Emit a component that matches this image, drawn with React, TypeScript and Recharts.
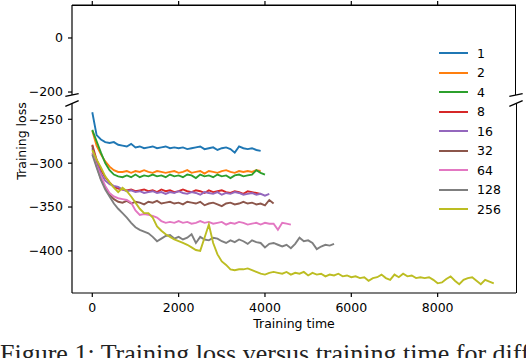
import React from 'react';
import { LineChart, Line, XAxis, YAxis, Legend } from 'recharts';

// ---------- data ----------
const SERIES_NAMES = ['1', '2', '4', '8', '16', '32', '64', '128', '256'];
const TIME_STEP = 100; // sampling interval of the training-time axis

const LOSS_1 = [-242, -268, -273, -276, -277, -276, -279, -280, -281, -278, -282, -281, -283, -282, -281, -283, -282, -281, -283, -282, -283, -282, -284, -283, -282, -281, -284, -283, -282, -285, -283, -282, -284, -288, -281, -283, -284, -283, -285, -286];
const LOSS_2 = [-263, -280, -290, -298, -304, -308, -310, -310, -309, -311, -309, -310, -308, -310, -311, -309, -310, -311, -310, -309, -311, -310, -308, -311, -310, -309, -312, -309, -310, -311, -309, -308, -310, -311, -309, -310, -309, -310, -308, -309];
const LOSS_4 = [-262, -275, -288, -300, -308, -313, -315, -316, -314, -316, -313, -316, -314, -315, -313, -315, -314, -316, -313, -315, -314, -316, -313, -314, -317, -313, -315, -314, -316, -313, -315, -314, -317, -314, -313, -315, -314, -313, -308, -311, -313];
const LOSS_8 = [-279, -296, -308, -316, -322, -327, -329, -330, -331, -330, -332, -331, -330, -332, -331, -333, -330, -332, -331, -333, -332, -330, -332, -333, -331, -332, -334, -331, -333, -332, -331, -333, -334, -332, -333, -335, -332, -333, -334, -335];
const LOSS_16 = [-283, -300, -312, -320, -324, -326, -327, -330, -332, -331, -333, -332, -334, -333, -332, -334, -333, -335, -333, -334, -332, -334, -335, -333, -334, -336, -333, -334, -335, -333, -336, -334, -335, -333, -334, -336, -335, -334, -336, -335, -337, -335];
const LOSS_32 = [-280, -303, -318, -328, -336, -341, -344, -345, -343, -346, -344, -345, -347, -344, -345, -343, -346, -345, -344, -346, -345, -347, -344, -345, -346, -344, -348, -346, -345, -347, -349, -346, -345, -347, -346, -344, -346, -345, -347, -346, -348, -342, -346];
const LOSS_64 = [-288, -303, -315, -326, -334, -338, -340, -341, -342, -345, -354, -359, -358, -359, -360, -362, -366, -368, -367, -368, -366, -368, -367, -369, -368, -366, -368, -367, -369, -368, -367, -370, -368, -369, -367, -368, -370, -369, -368, -370, -368, -369, -369, -376, -368, -369, -370];
const LOSS_128 = [-290, -305, -319, -330, -338, -346, -352, -357, -362, -368, -373, -376, -378, -380, -384, -389, -386, -383, -382, -386, -384, -387, -385, -381, -391, -384, -387, -388, -385, -386, -389, -391, -388, -390, -387, -389, -392, -388, -390, -391, -396, -392, -391, -393, -395, -393, -397, -392, -385, -389, -388, -391, -398, -395, -393, -394, -392];
const LOSS_256 = [-285, -296, -305, -315, -322, -328, -333, -328, -332, -338, -345, -352, -357, -357, -362, -372, -377, -381, -384, -387, -389, -391, -393, -396, -399, -400, -385, -370, -391, -404, -412, -416, -421, -422, -421, -421, -420, -422, -424, -426, -427, -425, -424, -425, -426, -424, -427, -425, -426, -424, -428, -425, -427, -426, -429, -427, -428, -426, -429, -428, -430, -429, -431, -430, -434, -431, -430, -427, -431, -433, -427, -430, -426, -429, -428, -431, -430, -431, -430, -433, -437, -436, -432, -429, -434, -438, -433, -431, -430, -434, -438, -433, -435, -437];

const SERIES_VALUES = [LOSS_1, LOSS_2, LOSS_4, LOSS_8, LOSS_16, LOSS_32, LOSS_64, LOSS_128, LOSS_256];

const X_TICKS = [0, 2000, 4000, 6000, 8000];
const TOP_Y_TICKS = [0, -200];
const BOTTOM_Y_TICKS = [-250, -300, -350, -400];

const X_LABEL = 'Training time';
const Y_LABEL = 'Training loss';
const CAPTION = 'Figure 1: Training loss versus training time for different';

// ---------- styles / layout ----------
const COLORS = ['#1f77b4', '#ff7f0e', '#2ca02c', '#d62728', '#9467bd', '#8c564b', '#e377c2', '#7f7f7f', '#bcbd22'];
const W = 526;
const H = 358;
const PLOT_LEFT = 72;
const PLOT_RIGHT = 516;
const TOP_PLOT_TOP = 5;
const TOP_PLOT_BOTTOM = 95;
const BOT_PLOT_TOP = 103.5;
const BOT_PLOT_BOTTOM = 293;
const TOP_AXIS_H = 20;
const X_DOMAIN: [number, number] = [-470, 9815];
const TOP_DOMAIN: [number, number] = [-211, 122];
const BOT_DOMAIN: [number, number] = [-448, -232];
const FONT = "'DejaVu Sans', sans-serif";
const FS = 12.5;
const SPINE_W = 1.2;
const AXIS_STROKE = { stroke: '#000', strokeWidth: SPINE_W };
const TICK_STYLE = { fill: '#000', fontSize: FS, fontFamily: FONT };

const seriesData = SERIES_VALUES.map((vals) => vals.map((v, i) => ({ t: i * TIME_STEP, v })));

const fmt = (v: number) => String(v).replace('-', '\u2212');
const NoLabel = () => <g />;

const renderLines = () =>
  SERIES_NAMES.map((name, i) => (
    <Line
      key={name}
      name={name}
      data={seriesData[i]}
      dataKey="v"
      type="linear"
      stroke={COLORS[i]}
      strokeWidth={1.9}
      dot={false}
      activeDot={false}
      isAnimationActive={false}
    />
  ));

const LegendContent = (props: any) => {
  const payload = [...(props.payload || [])].sort(
    (a: any, b: any) => SERIES_NAMES.indexOf(String(a.value)) - SERIES_NAMES.indexOf(String(b.value))
  );
  return (
    <div style={{ fontFamily: FONT, fontSize: FS, color: '#000' }}>
      {payload.map((p: any) => (
        <div key={p.value} style={{ display: 'flex', alignItems: 'center', height: 19.5 }}>
          <span style={{ display: 'inline-block', width: 29, height: 2, background: p.color, marginRight: 9 }} />
          <span style={{ lineHeight: '19.5px' }}>{p.value}</span>
        </div>
      ))}
    </div>
  );
};

const YLabel = () => (
  <text
    x={21}
    y={141}
    transform="rotate(-90 21 141)"
    textAnchor="middle"
    dominantBaseline="central"
    style={{ fontFamily: FONT, fontSize: FS, fill: '#000' }}
  >
    {Y_LABEL}
  </text>
);

const D = 0.015;
const plotW = PLOT_RIGHT - PLOT_LEFT;
const topH = TOP_PLOT_BOTTOM - TOP_PLOT_TOP;
const botH = BOT_PLOT_BOTTOM - BOT_PLOT_TOP;

export default function App() {
  const dx = D * plotW;
  const dyTop = D * topH;
  const dyBot = D * botH;
  return (
    <div style={{ position: 'absolute', left: 0, top: 0, width: W, height: H, overflow: 'hidden', background: '#fff' }}>
      {/* upper axes of the broken y axis */}
      <div style={{ position: 'absolute', left: 0, top: TOP_PLOT_TOP - TOP_AXIS_H }}>
        <LineChart
          width={W}
          height={TOP_AXIS_H + topH + 5}
          margin={{ top: 0, right: W - PLOT_RIGHT, bottom: 5, left: PLOT_LEFT - 60 }}
        >
          <XAxis
            dataKey="t"
            type="number"
            orientation="top"
            domain={X_DOMAIN}
            ticks={X_TICKS}
            allowDataOverflow
            height={TOP_AXIS_H}
            tick={<NoLabel />}
            tickSize={4}
            tickLine={AXIS_STROKE}
            axisLine={AXIS_STROKE}
          />
          <YAxis
            type="number"
            domain={TOP_DOMAIN}
            ticks={TOP_Y_TICKS}
            allowDataOverflow
            width={60}
            tickSize={4}
            tickMargin={5}
            tickFormatter={fmt}
            tick={TICK_STYLE}
            tickLine={AXIS_STROKE}
            axisLine={AXIS_STROKE}
          />
          {renderLines()}
        </LineChart>
      </div>
      {/* lower axes */}
      <div style={{ position: 'absolute', left: 0, top: 0 }}>
        <LineChart width={W} height={H} margin={{ top: BOT_PLOT_TOP, right: W - PLOT_RIGHT, bottom: H - BOT_PLOT_BOTTOM - 50, left: PLOT_LEFT - 60 }}>
          <XAxis
            dataKey="t"
            type="number"
            domain={X_DOMAIN}
            ticks={X_TICKS}
            allowDataOverflow
            height={50}
            tickSize={4}
            tickMargin={6}
            tickFormatter={fmt}
            tick={TICK_STYLE}
            tickLine={AXIS_STROKE}
            axisLine={AXIS_STROKE}
            label={{ value: X_LABEL, position: 'insideTop', offset: 26, style: { fill: '#000', fontSize: FS, fontFamily: FONT } }}
          />
          <YAxis
            type="number"
            domain={BOT_DOMAIN}
            ticks={BOTTOM_Y_TICKS}
            allowDataOverflow
            width={60}
            tickSize={4}
            tickMargin={5}
            tickFormatter={fmt}
            tick={TICK_STYLE}
            tickLine={AXIS_STROKE}
            axisLine={AXIS_STROKE}
            label={<YLabel />}
          />
          {renderLines()}
          <Legend
            layout="horizontal"
            align="center"
            verticalAlign="middle"
            itemSorter={null as any}
            content={<LegendContent />}
            wrapperStyle={{ position: 'absolute', left: 439, top: 43.5, width: 76, height: 180 }}
          />
        </LineChart>
      </div>
      {/* frame edges (top and right spines) drawn as CSS borders */}
      <div
        style={{
          position: 'absolute',
          left: PLOT_LEFT,
          top: TOP_PLOT_TOP - 0.5,
          width: plotW - 0.5,
          height: topH,
          borderTop: '1px solid #000',
          borderRight: '1px solid #000',
          boxSizing: 'border-box',
          pointerEvents: 'none',
        }}
      />
      <div
        style={{
          position: 'absolute',
          left: PLOT_LEFT,
          top: BOT_PLOT_TOP,
          width: plotW + 0.5,
          height: botH,
          borderRight: '1px solid #000',
          boxSizing: 'border-box',
          pointerEvents: 'none',
        }}
      />
      {/* break marks */}
      <svg width={W} height={H} style={{ position: 'absolute', left: 0, top: 0, pointerEvents: 'none' }}>
        {[PLOT_LEFT, PLOT_RIGHT].map((x) => (
          <g key={x} stroke="#000" strokeWidth={1.3}>
            <line x1={x - dx} y1={TOP_PLOT_BOTTOM + dyTop} x2={x + dx} y2={TOP_PLOT_BOTTOM - dyTop} />
            <line x1={x - dx} y1={BOT_PLOT_TOP + dyBot} x2={x + dx} y2={BOT_PLOT_TOP - dyBot} />
          </g>
        ))}
      </svg>
      <div
        style={{
          position: 'absolute',
          left: 0,
          top: 339,
          whiteSpace: 'nowrap',
          fontFamily: "'Liberation Serif', serif",
          fontSize: 26,
          lineHeight: '30px',
          color: '#222',
        }}
      >
        {CAPTION}
      </div>
    </div>
  );
}
